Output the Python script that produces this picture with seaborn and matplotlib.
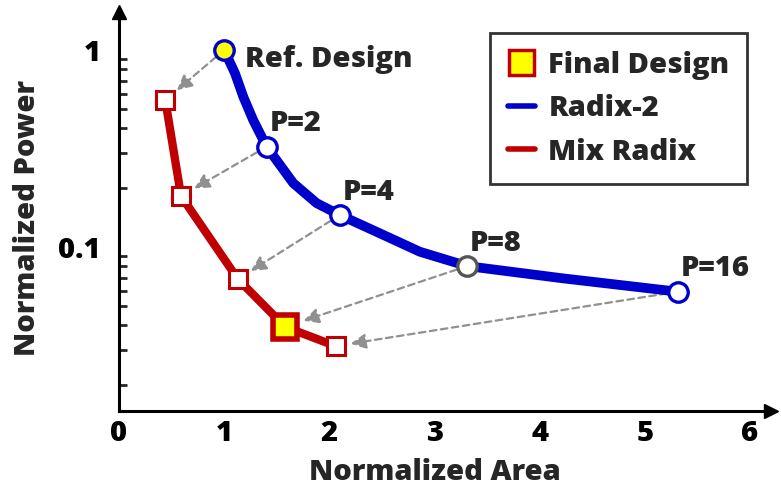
import matplotlib
matplotlib.use("Agg")
import matplotlib.pyplot as plt
import seaborn as sns
import pandas as pd
from matplotlib.lines import Line2D
from matplotlib.ticker import LogLocator, NullFormatter, FixedLocator, FixedFormatter

sns.set_theme(style="white")
plt.rcParams['font.family'] = ['Open Sans', 'DejaVu Sans']
plt.rcParams['font.weight'] = 'bold'

# Radix-2 design points (area, power)
radix2_labels = ["Ref. Design", "P=2", "P=4", "P=8", "P=16"]
radix2_area = [1.00, 1.404, 2.10, 3.311, 5.314]
radix2_power = [1.00, 0.323, 0.1453, 0.080, 0.0593]
# Mix radix design points
mix_area = [0.44, 0.59, 1.13, 1.58, 2.06]
mix_power = [0.557, 0.1815, 0.0688, 0.0393, 0.0314]
final_index = 3

# points (for its shape)
radix2_curve_area = [1.00, 1.103, 1.182, 1.276, 1.404, 1.657, 1.879, 2.10, 2.481, 2.861, 3.311, 4.223, 5.314]
radix2_curve_power = [1.00, 0.762, 0.579, 0.441, 0.323, 0.211, 0.167, 0.1453, 0.1173, 0.0946, 0.080, 0.0693, 0.0593]

BLUE = "#0000CC"
RED = "#C00000"
FS = 21

W, H = 781, 491
fig = plt.figure(figsize=(W / 100, H / 100), dpi=100)
ax = fig.add_axes([119 / W, 80 / H, 652 / W, 399 / H])

df_b = pd.DataFrame({"x": radix2_curve_area, "y": radix2_curve_power})
df_r = pd.DataFrame({"x": mix_area, "y": mix_power})
sns.lineplot(data=df_b, x="x", y="y", sort=False, color=BLUE, lw=7, ax=ax, zorder=2,
             solid_joinstyle="round", solid_capstyle="round")
sns.lineplot(data=df_r, x="x", y="y", sort=False, color=RED, lw=6, ax=ax, zorder=2,
             solid_joinstyle="round", solid_capstyle="round")

# dashed arrows
for i in range(len(radix2_area)):
    ax.annotate("", xy=(mix_area[i], mix_power[i]), xytext=(radix2_area[i], radix2_power[i]),
                arrowprops=dict(arrowstyle="-|>,head_length=0.75,head_width=0.38", color="#909090",
                                ls=(0, (3, 2)), lw=1.6, shrinkA=8, shrinkB=11 if i != final_index else 14),
                zorder=1)

# markers
edge_b = [BLUE, BLUE, BLUE, "#555555", BLUE]
face_b = ["#FFFF00", "white", "white", "white", "white"]
for i in range(len(radix2_area)):
    ax.plot(radix2_area[i], radix2_power[i], "o", ms=14, mfc=face_b[i], mec=edge_b[i], mew=2.4, zorder=4)
for i in range(len(mix_area)):
    if i == final_index:
        ax.plot(mix_area[i], mix_power[i], "s", ms=17, mfc="#FFFF00", mec=RED, mew=4, zorder=4)
    else:
        ax.plot(mix_area[i], mix_power[i], "s", ms=12.5, mfc="white", mec=RED, mew=2.2, zorder=4)

# labels
ax.annotate(radix2_labels[0], (radix2_area[0], radix2_power[0]), xytext=(15, -7),
            textcoords="offset points", ha="left", va="center", fontsize=FS, fontweight="heavy")
for i in range(1, len(radix2_area)):
    ax.annotate(radix2_labels[i], (radix2_area[i], radix2_power[i]), xytext=(2, 16.5),
                textcoords="offset points", ha="left", va="center", fontsize=FS, fontweight="heavy")

ax.set_yscale("log")
ax.set_xlim(0, 6.2)
ax.set_ylim(0.0147, 1.56)
ax.set_xticks([0, 1, 2, 3, 4, 5, 6])
ax.yaxis.set_major_locator(FixedLocator([0.1, 1]))
ax.yaxis.set_major_formatter(FixedFormatter(["0.1", "1"]))
ax.yaxis.set_minor_locator(LogLocator(base=10, subs=[2, 3, 4, 5, 6, 7, 8, 9]))
ax.yaxis.set_minor_formatter(NullFormatter())
ax.tick_params(axis="x", direction="in", length=7, width=2, labelsize=FS, pad=6, colors="black")
ax.tick_params(axis="y", which="major", direction="in", length=16, width=2, labelsize=FS, pad=13, colors="black")
ax.tick_params(axis="y", which="minor", direction="in", length=6, width=2, left=True)
for lab in ax.get_xticklabels() + ax.get_yticklabels():
    lab.set_fontweight("heavy")

ax.set_xlabel("Normalized Area", fontsize=FS, fontweight="heavy")
ax.set_ylabel("Normalized Power", fontsize=FS, fontweight="heavy")
ax.xaxis.set_label_coords((435 - 119) / 652, -(472 - 411) / 399, transform=ax.transAxes)
ax.xaxis.label.set_va("center")
ax.yaxis.set_label_coords(-(119 - 28) / 652, (411 - 218) / 399, transform=ax.transAxes)
ax.yaxis.label.set_va("center")

for s in ["top", "right"]:
    ax.spines[s].set_visible(False)
for s in ["left", "bottom"]:
    ax.spines[s].set_linewidth(2.2)
    ax.spines[s].set_color("black")
ax.plot([0], [1], marker="^", ms=10, color="black", transform=ax.transAxes, clip_on=False)
ax.plot([1], [0], marker=">", ms=10, color="black", transform=ax.transAxes, clip_on=False)

handles = [
    Line2D([], [], ls="none", marker="s", ms=18, mfc="#FFFF00", mec=RED, mew=2.5),
    Line2D([], [], color=BLUE, lw=4),
    Line2D([], [], color=RED, lw=4),
]
leg = ax.legend(handles, ["Final Design", "Radix-2", "Mix Radix"], loc="upper right",
                bbox_to_anchor=(747 / W, 1 - 33 / H), bbox_transform=fig.transFigure,
                frameon=True, fancybox=False, handlelength=0.95, handletextpad=0.45,
                borderpad=0.6, labelspacing=0.5, borderaxespad=0,
                prop={"weight": "heavy", "size": FS})
leg.get_frame().set_edgecolor("black")
leg.get_frame().set_linewidth(2)

fig.savefig("out.png", dpi=100)
